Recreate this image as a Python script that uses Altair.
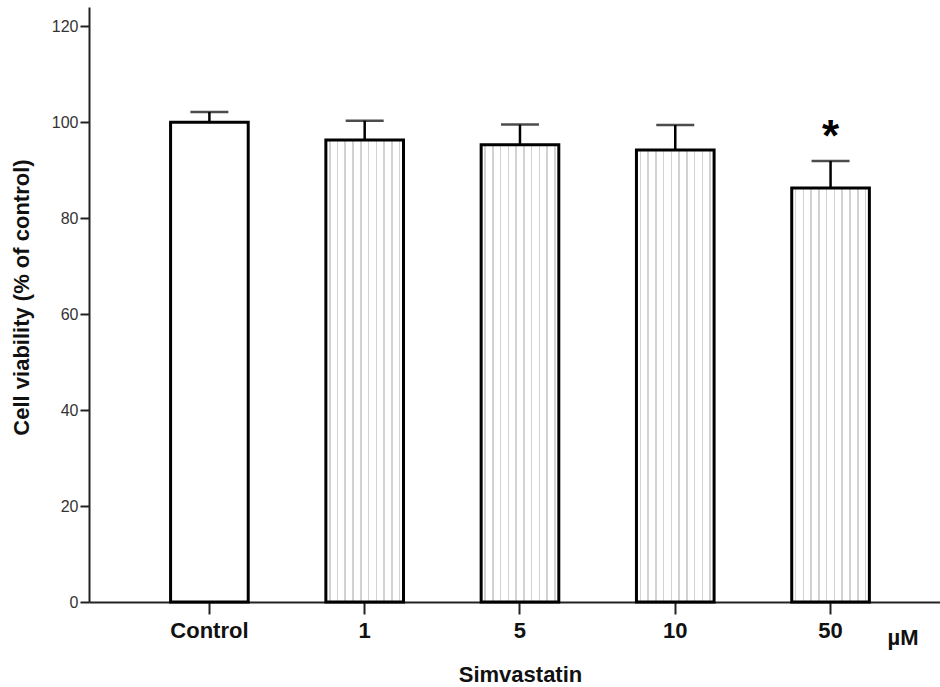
import altair as alt
import pandas as pd

categories = ["Control", "1", "5", "10", "50"]
means = [100.0, 96.3, 95.3, 94.2, 86.3]
sds = [2.1, 4.0, 4.2, 5.2, 5.6]
marks = ["", "", "", "", "*"]
treated = [False, True, True, True, True]

df = pd.DataFrame({"cat": categories, "mean": means, "sd": sds, "sig": marks, "treated": treated})
df["upper"] = df["mean"] + df["sd"]

FONT = "Liberation Sans"

# striped fill approximating the dotted pattern
stops = [alt.GradientStop(color="white", offset=0)]
n_lines = 10
for k in range(n_lines):
    c = (k + 0.5) / n_lines
    stops += [
        alt.GradientStop(color="white", offset=c - 0.01),
        alt.GradientStop(color="#d2d2d2", offset=c - 0.01),
        alt.GradientStop(color="#d2d2d2", offset=c + 0.01),
        alt.GradientStop(color="white", offset=c + 0.01),
    ]
stops.append(alt.GradientStop(color="white", offset=1))
dotted = alt.Gradient(gradient="linear", stops=stops, x1=0, x2=1, y1=0, y2=0)

xenc = alt.X(
    "cat:N",
    sort=categories,
    scale=alt.Scale(paddingInner=0.5, paddingOuter=0.49, align=0.536),
    axis=alt.Axis(
        title="Simvastatin",
        labelAngle=0,
        labelFont=FONT, labelFontSize=22, labelFontWeight="bold", labelColor="#111",
        labelPadding=6,
        tickSize=12, tickWidth=2, tickColor="#222",
        domainColor="#222", domainWidth=2,
        titleFont=FONT, titleFontSize=22, titleFontWeight="bold", titleColor="#111",
        titleBaseline="alphabetic", titleX=431, titleY=79,
    ),
)
yscale = alt.Scale(domain=[0, 124], nice=False)
yenc = alt.Y(
    "mean:Q",
    scale=yscale,
    axis=alt.Axis(
        title="Cell viability (% of control)",
        values=[0, 20, 40, 60, 80, 100, 120],
        grid=False,
        labelFont=FONT, labelFontSize=16, labelColor="#333", labelPadding=2,
        tickSize=9, tickWidth=2, tickColor="#222",
        domainColor="#222", domainWidth=2,
        titleFont=FONT, titleFontSize=22, titleFontWeight="bold", titleColor="#111",
        titleX=-56, titleY=290,
    ),
)

base = alt.Chart(df)

control_bar = base.transform_filter("!datum.treated").mark_bar(
    fill="white", stroke="black", strokeWidth=3
).encode(x=xenc, y=yenc)

treated_bar = base.transform_filter("datum.treated").mark_bar(
    fill=dotted, stroke="black", strokeWidth=3
).encode(x=alt.X("cat:N", sort=categories), y=alt.Y("mean:Q"))

err = base.mark_rule(color="black", strokeWidth=2.5).encode(
    x=alt.X("cat:N", sort=categories), y=alt.Y("mean:Q"), y2="upper:Q"
)
cap = base.mark_tick(color="black", thickness=2.5, size=38, orient="horizontal").encode(
    x=alt.X("cat:N", sort=categories), y=alt.Y("upper:Q")
)
star = base.mark_text(
    font=FONT, fontSize=44, fontWeight="bold", color="black", baseline="middle", dy=-23
).encode(x=alt.X("cat:N", sort=categories), y=alt.Y("upper:Q"), text="sig:N")

unit = alt.Chart(alt.Data(values=[{"u": "µM"}])).mark_text(
    font=FONT, fontSize=22, fontWeight="bold", color="#111", baseline="alphabetic", align="center"
).encode(x=alt.value(814), y=alt.value(638), text="u:N")

chart = alt.layer(control_bar, treated_bar, err, cap, star, unit).properties(
    width=851, height=595,
    padding={"left": 89, "top": 7, "right": 0, "bottom": 85},
    autosize=alt.AutoSizeParams(type="none"),
    background="white",
).configure_view(stroke=None)

chart.save("out.html", embed_options={"renderer": "svg", "actions": False})
